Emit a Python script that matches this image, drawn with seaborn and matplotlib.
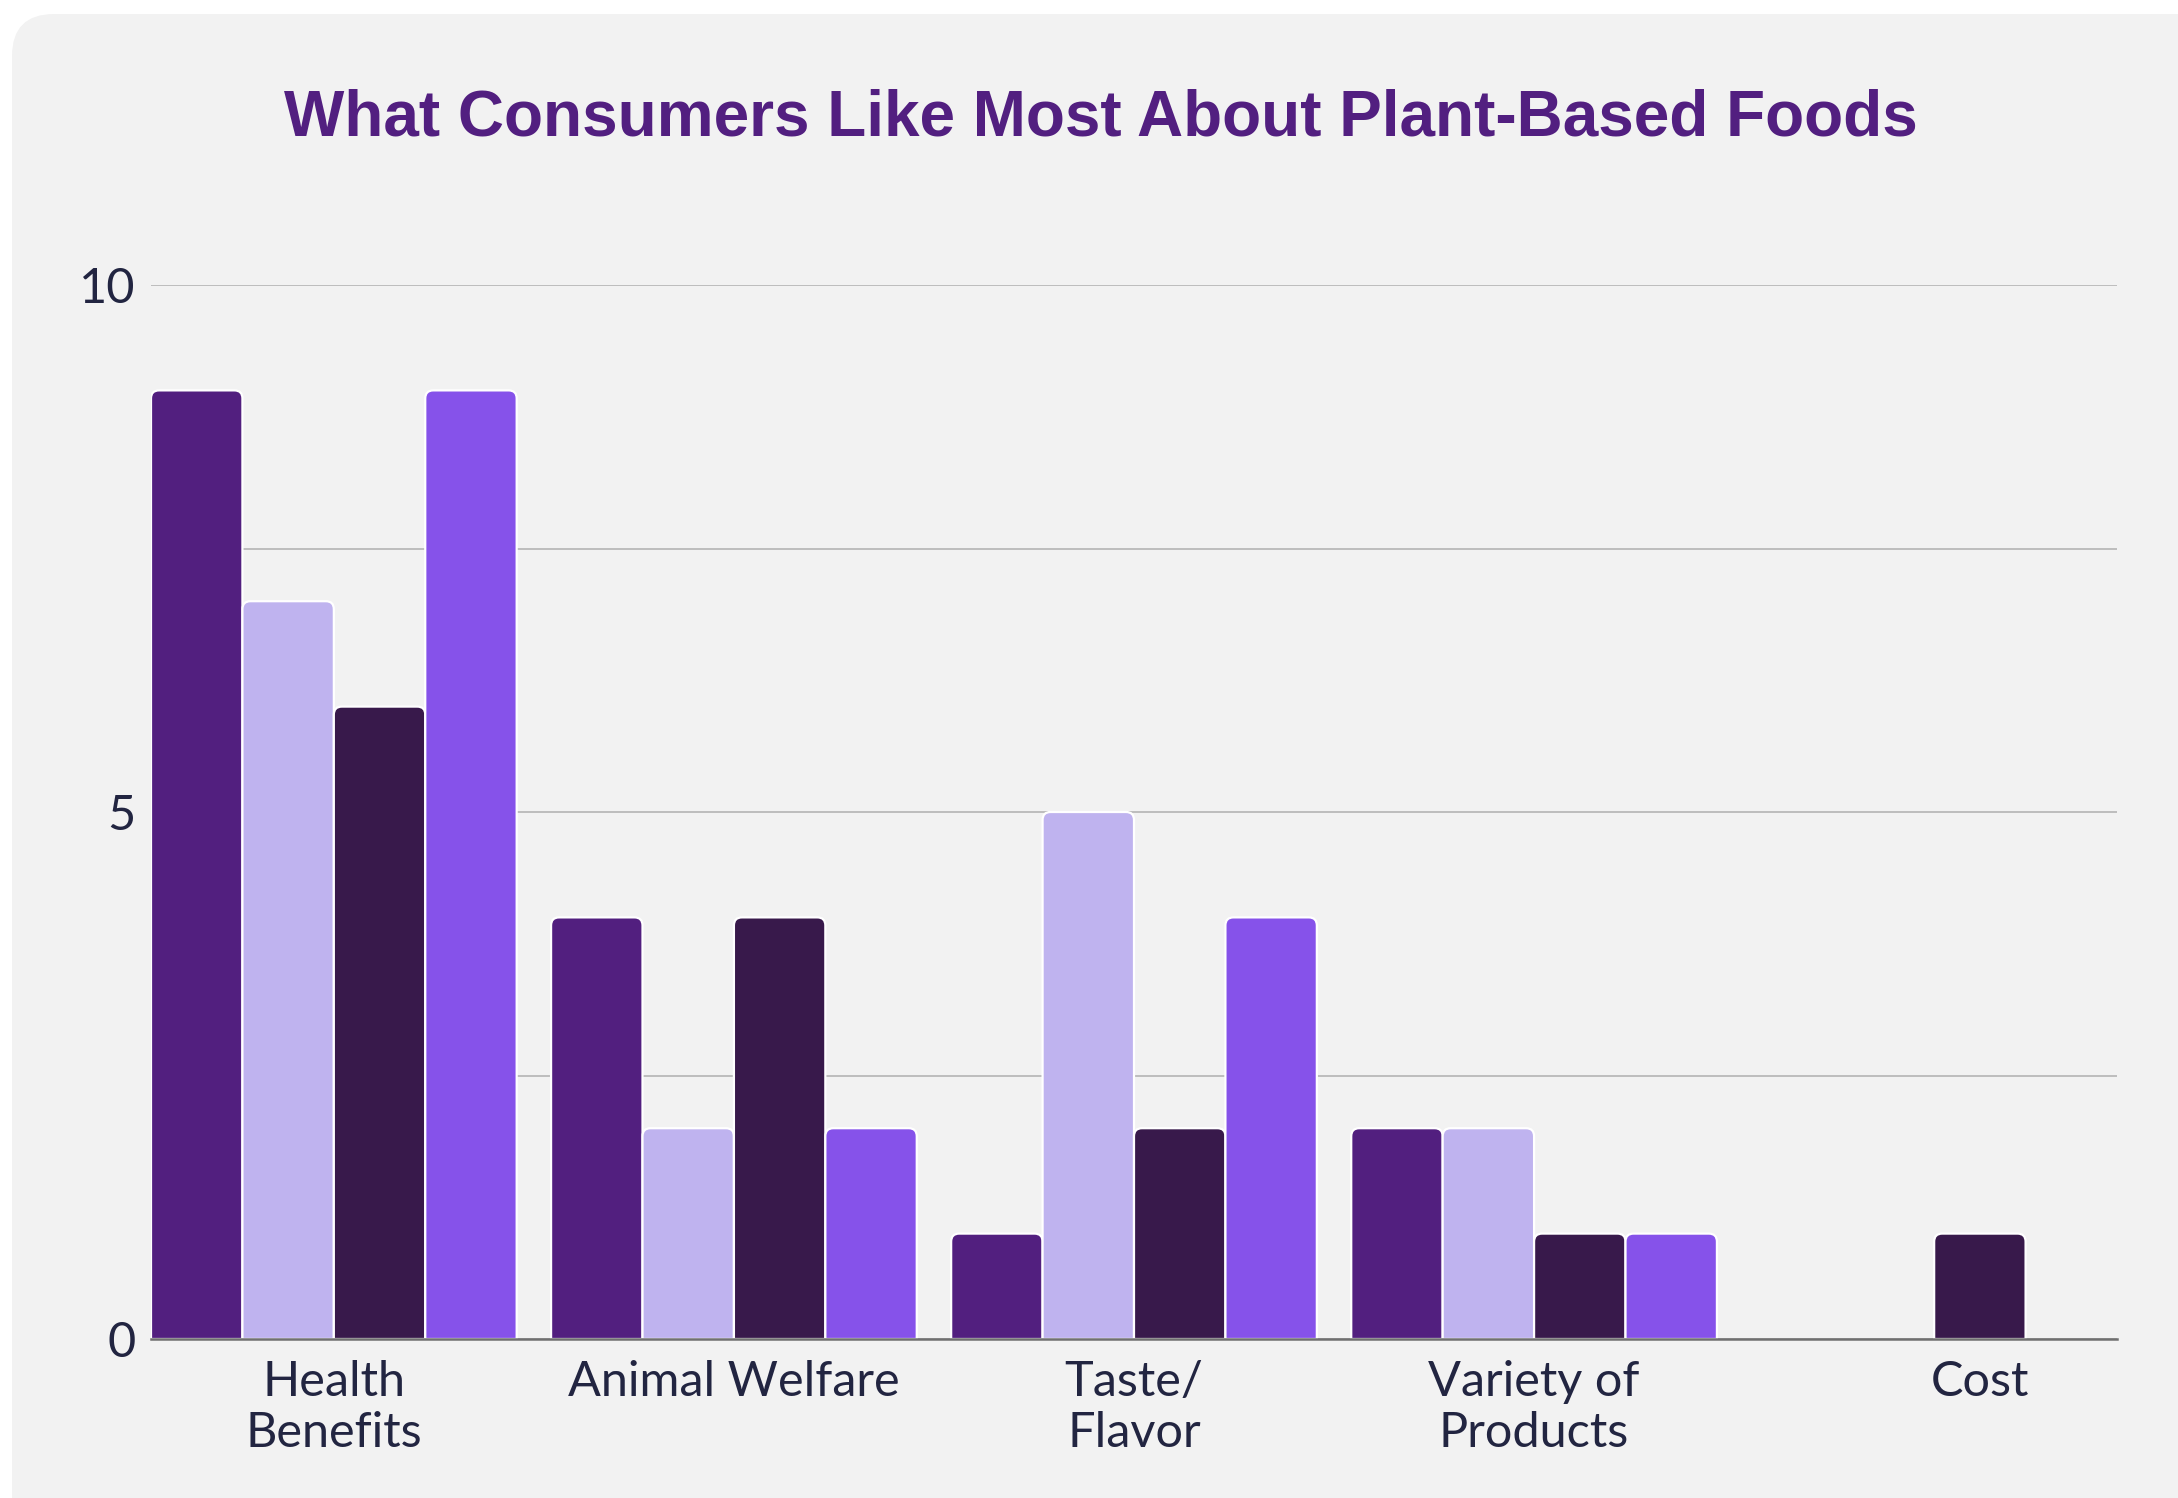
import numpy as np
import pandas as pd
import seaborn as sns
import matplotlib
matplotlib.use("Agg")
import matplotlib.pyplot as plt
from matplotlib.patches import FancyBboxPatch, PathPatch
from matplotlib.path import Path

# ---- data -------------------------------------------------------------
categories = ["Health\nBenefits", "Animal Welfare", "Taste/\nFlavor",
              "Variety of\nProducts", "Cost"]
series_names = ["Group 1", "Group 2", "Group 3", "Group 4"]
group_1 = [9, 4, 1, 2, 0]
group_2 = [7, 2, 5, 2, 0]
group_3 = [6, 4, 2, 1, 1]
group_4 = [9, 2, 4, 1, 0]
y_ticks = [0, 5, 10]
y_minor = [2.5, 7.5]

colors = ["#521F7F", "#BFB3EF", "#38194B", "#8652EA"]
title_color = "#521F80"
text_color = "#222541"
card_color = "#F2F2F2"

df = pd.DataFrame({
    "category": categories * 4,
    "series": sum([[s] * len(categories) for s in series_names], []),
    "value": group_1 + group_2 + group_3 + group_4,
})

# ---- figure -----------------------------------------------------------
sns.set_theme(style="white")
plt.rcParams["font.family"] = ["Lato", "DejaVu Sans"]

W, H, DPI = 2178, 1498, 100
fig = plt.figure(figsize=(W / DPI, H / DPI), dpi=DPI, facecolor="white")

# rounded background card
bg = fig.add_axes([0, 0, 1, 1], zorder=-10)
bg.set_xlim(0, W)
bg.set_ylim(0, H)
bg.axis("off")
bg.add_patch(FancyBboxPatch((12, -60), W + 40, H - 14 + 60,
                            boxstyle="round,pad=0,rounding_size=42",
                            facecolor=card_color, edgecolor="none"))

ax = fig.add_axes([151 / W, 1 - 1339 / H, (2117 - 151) / W, (1339 - 285) / H])
ax.set_facecolor("none")

sns.barplot(data=df, x="category", y="value", hue="series", palette=colors,
            width=0.914, saturation=1, legend=False, ax=ax,
            edgecolor="white", linewidth=0)

ax.set_xlim(-0.457, len(categories) - 1 + 0.457)
ax.set_ylim(0, 10)

# rounded top corners for every bar; collect centres of drawn bars per category
sx = ax.transData.transform((1, 0))[0] - ax.transData.transform((0, 0))[0]
sy = ax.transData.transform((0, 1))[1] - ax.transData.transform((0, 0))[1]
r_px = 8
rx, ry = r_px / sx, r_px / sy
drawn = {i: [] for i in range(len(categories))}
for p in list(ax.patches):
    x0, y0 = p.get_x(), p.get_y()
    w, h = p.get_width(), p.get_height()
    fc = p.get_facecolor()
    p.set_visible(False)
    if not np.isfinite(h) or h <= 0:
        continue
    drawn[int(round(x0 + w / 2))].append(x0 + w / 2)
    verts = [(x0, y0), (x0, h - ry), (x0, h), (x0 + rx, h),
             (x0 + w - rx, h), (x0 + w, h), (x0 + w, h - ry),
             (x0 + w, y0), (x0, y0)]
    codes = [Path.MOVETO, Path.LINETO, Path.CURVE3, Path.CURVE3,
             Path.LINETO, Path.CURVE3, Path.CURVE3,
             Path.LINETO, Path.CLOSEPOLY]
    ax.add_patch(PathPatch(Path(verts, codes), facecolor=fc,
                           edgecolor="white", linewidth=1.6, zorder=2))

# category labels sit under the middle of the bars actually drawn
tick_pos = [np.mean([min(v), max(v)]) if v else i for i, v in drawn.items()]
ax.set_xticks(tick_pos)
ax.set_xticklabels(categories)

# grid and axes
ax.set_yticks(y_ticks)
ax.set_yticks(y_minor, minor=True)
ax.yaxis.grid(True, which="both", color="#BDBDBD", linewidth=1.4, zorder=0)
ax.set_axisbelow(True)
for s in ["left", "right", "top"]:
    ax.spines[s].set_visible(False)
ax.spines["bottom"].set_color("#707070")
ax.spines["bottom"].set_linewidth(1.8)
ax.spines["bottom"].set_zorder(5)

ax.tick_params(axis="both", which="both", length=0)
ax.tick_params(axis="y", pad=11, labelsize=35, labelcolor=text_color)
ax.tick_params(axis="x", pad=15, labelsize=35, labelcolor=text_color)
for lab in ax.get_xticklabels():
    lab.set_linespacing(1.2)
ax.set_xlabel("")
ax.set_ylabel("")

fig.text(1101 / W, 1 - 136 / H, "What Consumers Like Most About Plant-Based Foods",
         ha="center", va="baseline", fontsize=46, fontweight="bold",
         color=title_color, family=["Liberation Sans", "DejaVu Sans"])

fig.savefig("out.png", dpi=DPI, facecolor="white")
